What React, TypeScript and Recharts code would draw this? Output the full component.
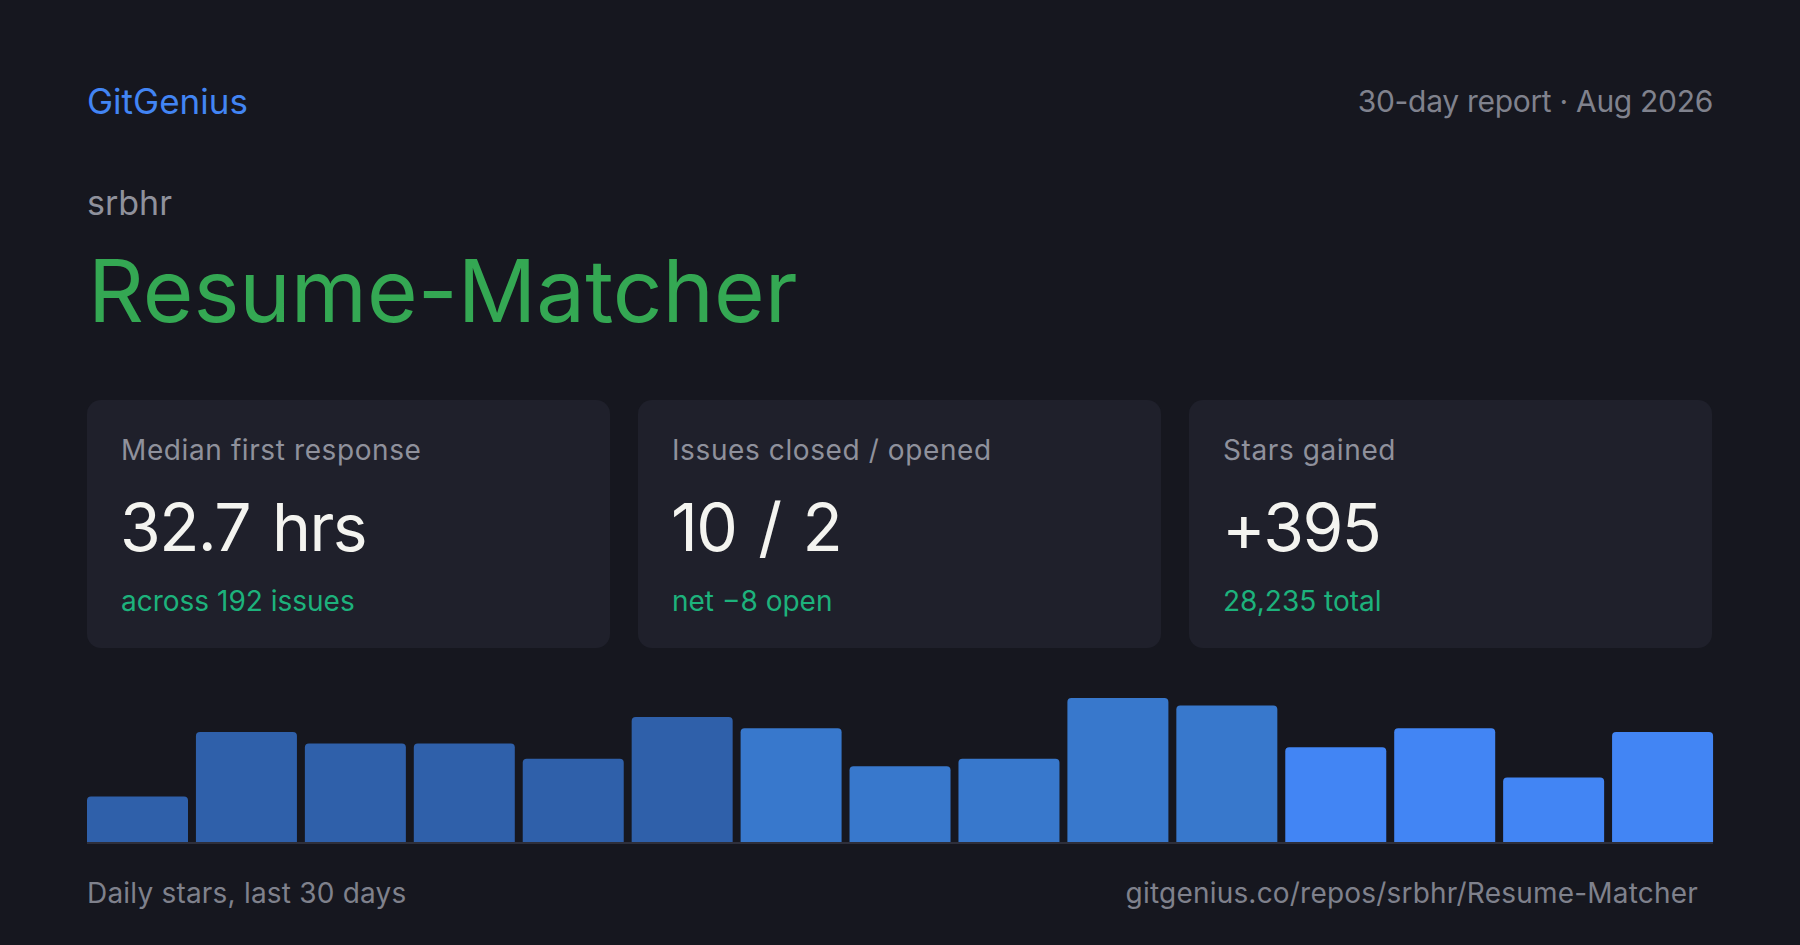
import { BarChart, Bar, XAxis, YAxis, Cell } from "recharts";

// two-day buckets covering the 30-day window
const buckets = [
  "Aug 1-2", "Aug 3-4", "Aug 5-6", "Aug 7-8", "Aug 9-10",
  "Aug 11-12", "Aug 13-14", "Aug 15-16", "Aug 17-18", "Aug 19-20",
  "Aug 21-22", "Aug 23-24", "Aug 25-26", "Aug 27-28", "Aug 29-30",
];
const starsPerBucket = [12, 29, 26, 26, 22, 33, 30, 20, 22, 38, 36, 25, 30, 17, 29];

const statLabels = ["Median first response", "Issues closed / opened", "Stars gained"];
const statValues = ["32.7 hrs", "10 / 2", "+395"];
const statNotes = ["across 192 issues", "net \u22128 open", "28,235 total"];

const chartData = buckets.map((day, i) => ({ day, stars: starsPerBucket[i] }));

const BG = "#16171f";
const CARD = "#1f202b";
const FONT = "Inter, 'Noto Sans', sans-serif";

// older buckets are darker, recent ones brighter
function shade(i: number) {
  if (i < 6) return "#2f60aa";
  if (i < 11) return "#3878cc";
  return "#4285f4";
}

type StatProps = { label: string; value: string; note: string };

function StatCard({ label, value, note }: StatProps) {
  return (
    <div
      style={{
        position: "relative",
        width: 523,
        height: 248,
        background: CARD,
        borderRadius: 14,
      }}
    >
      <div
        style={{
          position: "absolute",
          left: 34,
          top: 36,
          fontSize: 28,
          lineHeight: 1,
          letterSpacing: 0.6,
          color: "#8f919c",
          whiteSpace: "nowrap",
        }}
      >
        {label}
      </div>
      <div
        style={{
          position: "absolute",
          left: 33,
          top: 94,
          fontSize: 66,
          lineHeight: 1,
          letterSpacing: -1.6,
          wordSpacing: 5,
          color: "#f4f4f0",
          whiteSpace: "nowrap",
        }}
      >
        {value}
      </div>
      <div style={{ position: "absolute", left: 34, top: 187, fontSize: 28, lineHeight: 1, color: "#1db27c" }}>
        {note}
      </div>
    </div>
  );
}

export default function App() {
  return (
    <div
      style={{
        position: "absolute",
        left: 0,
        top: 0,
        width: 1800,
        height: 945,
        background: BG,
        fontFamily: FONT,
        overflow: "hidden",
      }}
    >
      <div style={{ position: "absolute", left: 87, top: 84, fontSize: 35, lineHeight: 1, color: "#4285f4" }}>
        GitGenius
      </div>
      <div
        style={{
          position: "absolute",
          right: 87,
          top: 86,
          fontSize: 30,
          lineHeight: 1,
          letterSpacing: -0.3,
          color: "#80828d",
          whiteSpace: "nowrap",
        }}
      >
        30-day report · Aug 2026
      </div>

      <div style={{ position: "absolute", left: 87, top: 186, fontSize: 34, lineHeight: 1, color: "#8f919c" }}>
        srbhr
      </div>
      <div style={{ position: "absolute", left: 88, top: 247, fontSize: 87, lineHeight: 1, color: "#34a853", whiteSpace: "nowrap" }}>
        Resume-Matcher
      </div>

      <div style={{ position: "absolute", left: 87, top: 400, width: 1626, display: "flex", gap: 28 }}>
        {statLabels.map((label, i) => (
          <StatCard key={label} label={label} value={statValues[i]} note={statNotes[i]} />
        ))}
      </div>

      {/* daily stars */}
      <div style={{ position: "absolute", left: 83, top: 698 }}>
        <BarChart width={1634} height={144} data={chartData} margin={{ top: 0, right: 0, bottom: 0, left: 0 }} barCategoryGap={4}>
          <XAxis dataKey="day" hide />
          <YAxis hide domain={[0, 38]} />
          <Bar dataKey="stars" radius={[4, 4, 0, 0]} isAnimationActive={false}>
            {chartData.map((d, i) => (
              <Cell key={d.day} fill={shade(i)} />
            ))}
          </Bar>
        </BarChart>
      </div>
      <div style={{ position: "absolute", left: 87, top: 842, width: 1626, height: 2, background: "#2e2f3b" }} />

      <div style={{ position: "absolute", left: 87, top: 879, fontSize: 28, lineHeight: 1, letterSpacing: 0.2, color: "#7f818c" }}>
        Daily stars, last 30 days
      </div>
      <div
        style={{
          position: "absolute",
          right: 102,
          top: 879,
          fontSize: 28,
          lineHeight: 1,
          letterSpacing: 0.2,
          color: "#7f818c",
          whiteSpace: "nowrap",
        }}
      >
        gitgenius.co/repos/srbhr/Resume-Matcher
      </div>
    </div>
  );
}
